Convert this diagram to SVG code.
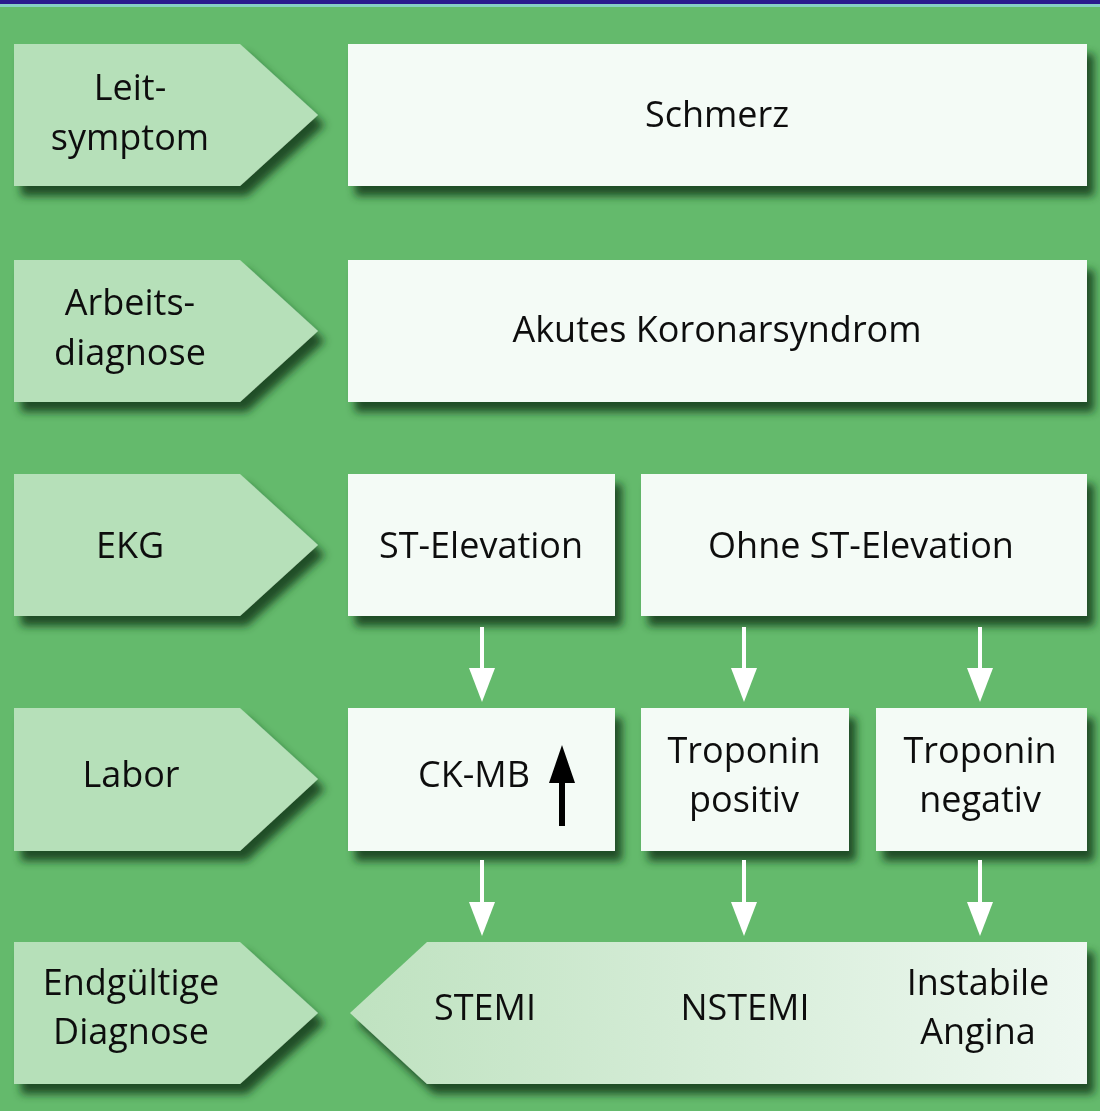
<svg xmlns="http://www.w3.org/2000/svg" width="1100" height="1111" viewBox="0 0 1100 1111">
<defs>
<style>
.t{font-family:"Open Sans","DejaVu Sans",sans-serif;font-size:36px;fill:#111;text-anchor:middle}
.lab{fill:#b6e0b9}
.box{fill:#f4fbf6}
.wa line{stroke:#ffffff;stroke-width:4}
.wa polygon{fill:#ffffff}
</style>
<filter id="sh" x="-10%" y="-10%" width="130%" height="140%">
<feDropShadow dx="7" dy="10" stdDeviation="4.5" flood-color="#16401a" flood-opacity="0.9"/>
</filter>
<linearGradient id="fin" x1="0" y1="0" x2="1" y2="0">
<stop offset="0" stop-color="#bfe2c0"/>
<stop offset="1" stop-color="#eef8f1"/>
</linearGradient>
</defs>
<rect x="0" y="0" width="1100" height="1111" fill="#64ba6c"/>
<rect x="0" y="0" width="1100" height="4" fill="#2a1a8e"/>
<rect x="0" y="4" width="1100" height="3" fill="#86cfc4"/>

<g id="label-leitsymptom" filter="url(#sh)">
<path class="lab" d="M14,44 L240,44 L318,115 L240,186 L14,186 Z"/>
<text class="t" x="130" y="100">Leit-</text>
<text class="t" x="130" y="150">symptom</text>
</g>
<g id="node-schmerz" filter="url(#sh)">
<rect class="box" x="348" y="44" width="739" height="142"/>
<text class="t" x="717" y="127">Schmerz</text>
</g>

<g id="label-arbeitsdiagnose" filter="url(#sh)">
<path class="lab" d="M14,260 L240,260 L318,331 L240,402 L14,402 Z"/>
<text class="t" x="130" y="315">Arbeits-</text>
<text class="t" x="130" y="365">diagnose</text>
</g>
<g id="node-aks" filter="url(#sh)">
<rect class="box" x="348" y="260" width="739" height="142"/>
<text class="t" x="717" y="342">Akutes Koronarsyndrom</text>
</g>

<g id="label-ekg" filter="url(#sh)">
<path class="lab" d="M14,474 L240,474 L318,545 L240,616 L14,616 Z"/>
<text class="t" x="130" y="558">EKG</text>
</g>
<g id="node-st" filter="url(#sh)">
<rect class="box" x="348" y="474" width="267" height="142"/>
<text class="t" x="481" y="558">ST-Elevation</text>
</g>
<g id="node-ohne-st" filter="url(#sh)">
<rect class="box" x="641" y="474" width="446" height="142"/>
<text class="t" x="861" y="558">Ohne ST-Elevation</text>
</g>

<g id="label-labor" filter="url(#sh)">
<path class="lab" d="M14,708 L240,708 L318,779 L240,851 L14,851 Z"/>
<text class="t" x="131" y="787">Labor</text>
</g>
<g id="node-ckmb" filter="url(#sh)">
<rect class="box" x="348" y="708" width="267" height="143"/>
<text class="t" x="474" y="787">CK-MB</text>
<line x1="562" y1="826" x2="562" y2="772" stroke="#000" stroke-width="6"/>
<polygon points="549,783 575,783 562,745" fill="#000"/>
</g>
<g id="node-trop-pos" filter="url(#sh)">
<rect class="box" x="641" y="708" width="208" height="143"/>
<text class="t" x="744" y="763">Troponin</text>
<text class="t" x="744" y="812">positiv</text>
</g>
<g id="node-trop-neg" filter="url(#sh)">
<rect class="box" x="876" y="708" width="211" height="143"/>
<text class="t" x="980" y="763">Troponin</text>
<text class="t" x="980" y="812">negativ</text>
</g>

<g id="label-endgueltig" filter="url(#sh)">
<path class="lab" d="M14,942 L240,942 L318,1013 L240,1084 L14,1084 Z"/>
<text class="t" x="131" y="995">Endgültige</text>
<text class="t" x="131" y="1044">Diagnose</text>
</g>
<g id="node-final" filter="url(#sh)">
<path fill="url(#fin)" d="M427,942 L1087,942 L1087,1084 L427,1084 L350,1013 Z"/>
<text class="t" x="485" y="1020">STEMI</text>
<text class="t" x="745" y="1020">NSTEMI</text>
<text class="t" x="978" y="995">Instabile</text>
<text class="t" x="978" y="1044">Angina</text>
</g>

<g id="connectors" class="wa">
<line x1="482" y1="627" x2="482" y2="672"/><polygon points="469,668 495,668 482,702"/>
<line x1="744" y1="627" x2="744" y2="672"/><polygon points="731,668 757,668 744,702"/>
<line x1="980" y1="627" x2="980" y2="672"/><polygon points="967,668 993,668 980,702"/>
<line x1="482" y1="860" x2="482" y2="905"/><polygon points="469,902 495,902 482,936"/>
<line x1="744" y1="860" x2="744" y2="905"/><polygon points="731,902 757,902 744,936"/>
<line x1="980" y1="860" x2="980" y2="905"/><polygon points="967,902 993,902 980,936"/>
</g>
</svg>
